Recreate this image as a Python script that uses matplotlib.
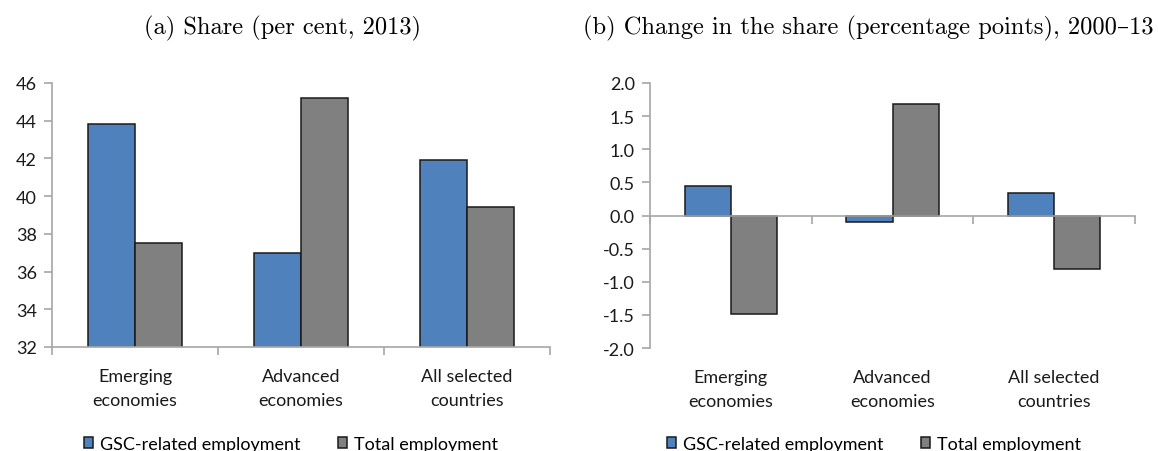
import matplotlib
matplotlib.use("Agg")
import matplotlib.pyplot as plt
from matplotlib.patches import Patch
from matplotlib.transforms import blended_transform_factory
import numpy as np

categories = ["Emerging\neconomies", "Advanced\neconomies", "All selected\ncountries"]
series_names = ["GSC-related employment", "Total employment"]

share_gsc = [43.8, 37.0, 41.9]
share_total = [37.5, 45.2, 39.4]

change_gsc = [0.44, -0.10, 0.34]
change_total = [-1.48, 1.69, -0.80]

left_ticks = [32, 34, 36, 38, 40, 42, 44, 46]
right_ticks = [-2.0, -1.5, -1.0, -0.5, 0.0, 0.5, 1.0, 1.5, 2.0]

title_a = "(a) Share (per cent, 2013)"
title_b = "(b) Change in the share (percentage points), 2000\u201313"

BLUE = "#4f81bd"
GREY = "#808080"
AXIS = "#a6a6a6"
EDGE = "#1a1a1a"
SANS = ["Lato", "DejaVu Sans"]
SERIF = ["cmr10", "DejaVu Serif"]
FS = 13

W, H = 1158, 452
fig = plt.figure(figsize=(W / 100, H / 100), dpi=100)


def px_axes(x0, x1, y0, y1):
    return fig.add_axes([x0 / W, 1 - y1 / H, (x1 - x0) / W, (y1 - y0) / H])


def style(ax, ymin, ymax, ticks, fmt):
    n = len(categories)
    centers = np.arange(n) + 0.5
    ax.set_xlim(0, n)
    ax.set_ylim(ymin, ymax)
    for s in ("top", "right"):
        ax.spines[s].set_visible(False)
    for s in ("left", "bottom"):
        ax.spines[s].set_color(AXIS)
        ax.spines[s].set_linewidth(1.2)
        ax.spines[s].set_zorder(4)
    ax.set_yticks(ticks)
    ax.set_yticklabels([fmt % t for t in ticks], fontfamily=SANS, fontsize=FS)
    ax.set_xticks(np.arange(n + 1))
    ax.set_xticklabels([])
    ax.tick_params(axis="both", direction="out", length=6, width=1.2,
                   color=AXIS, labelcolor="#1a1a1a")
    ax.tick_params(axis="y", pad=5)
    tr = blended_transform_factory(ax.transData, ax.transAxes)
    for c, lab in zip(centers, categories):
        ax.annotate(lab, xy=(c, 0), xycoords=tr, xytext=(0, -29.5),
                    textcoords="offset points", ha="center", va="center",
                    fontfamily=SANS, fontsize=FS, linespacing=1.65,
                    color="#1a1a1a", annotation_clip=False)
    return centers


def bars(ax, centers, a, b):
    w = 1 / 3.5
    ax.bar(centers - w / 2, a, w, color=BLUE, edgecolor=EDGE, linewidth=1.1, zorder=3)
    ax.bar(centers + w / 2, b, w, color=GREY, edgecolor=EDGE, linewidth=1.1, zorder=3)


# Panel (a): share in 2013 (axis floor at 32 clips the bars)
ax1 = px_axes(52, 550, 84, 348)
c1 = style(ax1, 32, 46, left_ticks, "%d")
bars(ax1, c1, share_gsc, share_total)

# Panel (b): change 2000-13, category axis drawn through zero
ax2 = px_axes(650, 1135, 84, 349)
c2 = style(ax2, -2.0, 2.0, right_ticks, "%.1f")
ax2.spines["bottom"].set_position(("data", 0))
bars(ax2, c2, change_gsc, change_total)

handles = [Patch(facecolor=BLUE, edgecolor=EDGE, linewidth=1.1),
           Patch(facecolor=GREY, edgecolor=EDGE, linewidth=1.1)]
for xc in (291, 874):
    fig.legend(handles, series_names, loc="center",
               bbox_to_anchor=(xc / W, 1 - 445 / H), ncol=2, frameon=False,
               prop={"family": SANS, "size": FS}, handlelength=0.5,
               handleheight=0.5, handletextpad=0.35, columnspacing=2.1,
               borderpad=0, borderaxespad=0)

fig.text(282 / W, 1 - 28 / H, title_a, ha="center", va="center",
         fontfamily=SERIF, fontsize=17.6)
fig.text(868 / W, 1 - 28 / H, title_b, ha="center", va="center",
         fontfamily=SERIF, fontsize=17.6)

fig.savefig("out.png", dpi=100)
